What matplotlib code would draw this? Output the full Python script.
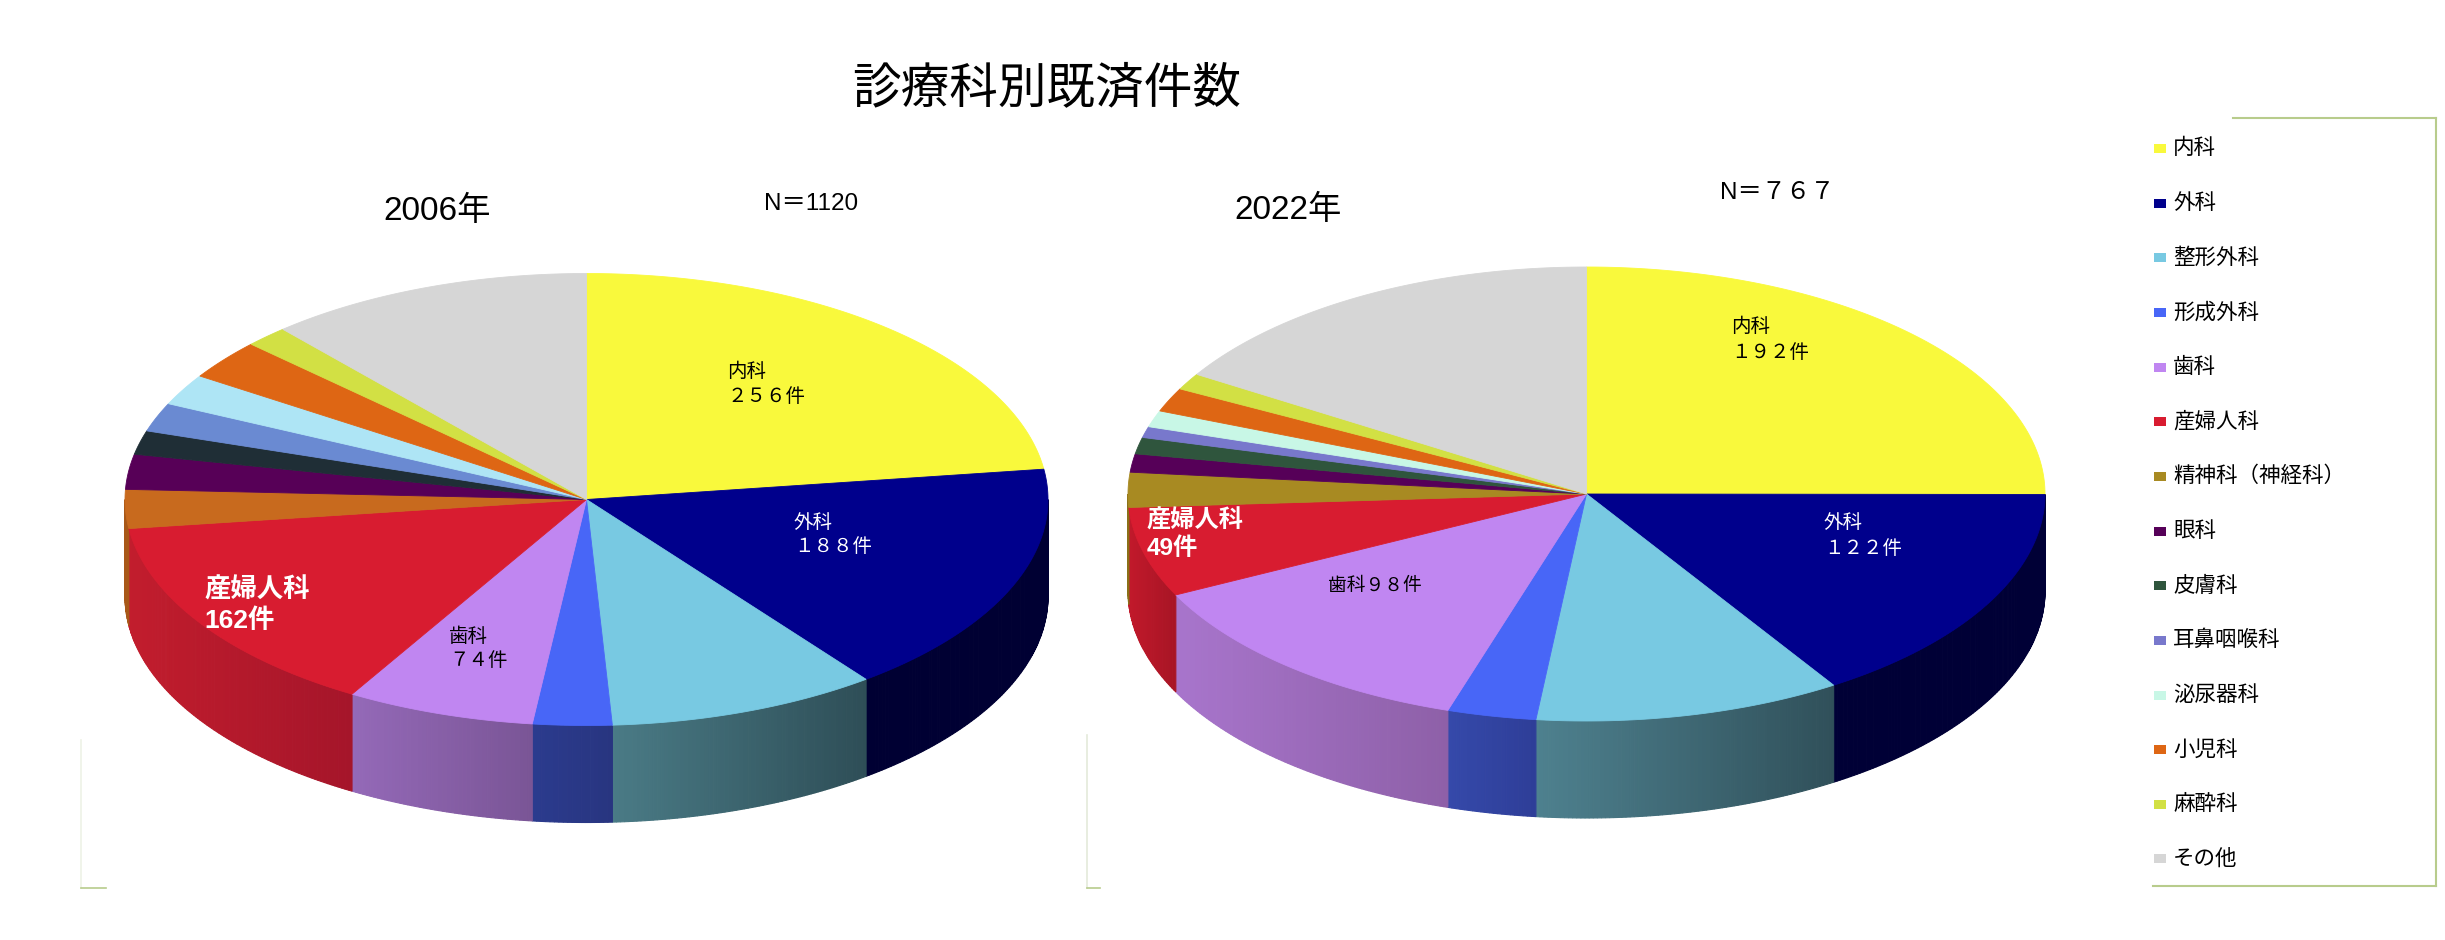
import numpy as np
import matplotlib.pyplot as plt
from matplotlib.patches import Polygon, Rectangle
from matplotlib.colors import to_rgb

plt.rcParams['font.family'] = ['Noto Sans CJK JP', 'DejaVu Sans']

# 診療科
categories = ['内科', '外科', '整形外科', '形成外科', '歯科', '産婦人科',
              '精神科（神経科）', '眼科', '皮膚科', '耳鼻咽喉科', '泌尿器科',
              '小児科', '麻酔科', 'その他']

# 件数（ラベルのあるものはラベル値、他は図から読み取り）
counts_2006 = [256, 188, 106, 31, 74, 162, 31, 28, 19, 23, 25, 32, 17, 128]
counts_2022 = [192, 122, 83, 24, 98, 49, 19, 10, 9, 6, 9, 13, 9, 124]

colors_2022 = ['#F9F93C', '#00008C', '#78C9E2', '#4866F7', '#C086F1', '#D81C30',
               '#A88A22', '#560058', '#2F553D', '#7878CC', '#C8F7E6', '#DE6614',
               '#D2E044', '#D6D6D6']
colors_2006 = ['#F9F93C', '#00008C', '#78C9E2', '#4866F7', '#C086F1', '#D81C30',
               '#C86A1E', '#570057', '#1F2E36', '#6A8AD2', '#AEE5F5', '#DE6614',
               '#D2E044', '#D6D6D6']

# 側面のグラデーション（左→右）
side_2006 = {1: ('#000033', '#000033'), 2: ('#4A7B86', '#2E4E57'),
             3: ('#2B3B8E', '#283580'), 4: ('#9469B8', '#7A5596'),
             5: ('#C21D2D', '#A5152A'), 6: ('#A85818', '#A85818')}
side_2022 = {1: ('#000036', '#000036'), 2: ('#4E818F', '#30505A'),
             3: ('#3549AA', '#2E3E98'), 4: ('#A875CC', '#8E60A8'),
             5: ('#C2192B', '#A81525'), 6: ('#8A7018', '#8A7018')}

W, H = 2445, 940
fig = plt.figure(figsize=(W / 100, H / 100), dpi=100)
ax = fig.add_axes([0, 0, 1, 1])
ax.set_xlim(0, W)
ax.set_ylim(H, 0)
ax.axis('off')


def pie3d(ax, counts, colors, sides, cx, cy, rx, ry, depth):
    total = sum(counts)
    cum = np.concatenate([[0], np.cumsum(counts)])
    t_start = 90 - cum[:-1] / total * 360
    t_end = 90 - cum[1:] / total * 360

    def pt(t):
        r = np.radians(t)
        return cx + rx * np.cos(r), cy - ry * np.sin(r)

    for i, c in enumerate(colors):
        # 上面
        ts = np.linspace(t_start[i], t_end[i], max(3, int(abs(t_start[i] - t_end[i]) * 2)))
        xs, ys = pt(ts)
        verts = np.column_stack([np.r_[cx, xs], np.r_[cy, ys]])
        ax.add_patch(Polygon(verts, closed=True, fc=c, ec=c, lw=0.6, zorder=3))

        # 側面（手前側 -180..0）
        a = max(t_end[i], -180)
        b = min(t_start[i], 0)
        if a >= b:
            continue
        cl, cr = sides.get(i, (tuple(0.6 * v for v in to_rgb(c)),) * 2)
        cl, cr = np.array(to_rgb(cl)), np.array(to_rgb(cr))
        ts = np.linspace(a, b, max(3, int((b - a) * 2)))
        xs, ys = pt(ts)
        xmin, xmax = xs.min(), xs.max()
        for k in range(len(ts) - 1):
            xm = (xs[k] + xs[k + 1]) / 2
            f = 0 if xmax == xmin else (xm - xmin) / (xmax - xmin)
            col = cl + (cr - cl) * f
            v = [(xs[k], ys[k]), (xs[k + 1], ys[k + 1]),
                 (xs[k + 1], ys[k + 1] + depth), (xs[k], ys[k] + depth)]
            ax.add_patch(Polygon(v, closed=True, fc=col, ec=col, lw=0.8, zorder=2))


pie3d(ax, counts_2006, colors_2006, side_2006, 586.5, 499.5, 461.5, 226, 97)
pie3d(ax, counts_2022, colors_2022, side_2022, 1586.5, 494, 458.5, 227, 97)

# タイトル・見出し
ax.text(1047, 88, '診療科別既済件数', fontsize=35, ha='center', va='center', zorder=5)
lat = ['Liberation Sans', 'Noto Sans CJK JP']
ax.text(437, 211, '2006年', fontsize=24, family=lat, ha='center', va='center')
ax.text(1288, 210, '2022年', fontsize=24, family=lat, ha='center', va='center')
ax.text(811, 204, 'N＝1120', fontsize=17.5, family=lat, ha='center', va='center')
ax.text(1777, 193, 'N＝７６７', fontsize=17.5, family=lat, ha='center', va='center')

# ラベル
def lab(x, y, s, **kw):
    ax.text(x, y, s, ha='left', va='center', zorder=6, **kw)

lab(727, 371.5, '内科', fontsize=14)
lab(727, 397, '２５６件', fontsize=14)
lab(794, 522, '外科', fontsize=14, color='white')
lab(794, 546.5, '１８８件', fontsize=14, color='white')
lab(204, 590.5, '産婦人科', fontsize=19, color='white', fontweight='bold')
lab(204, 620.5, '162件', fontsize=19, color='white', fontweight='bold', family=lat)
lab(449, 637, '歯科', fontsize=14)
lab(449, 660.5, '７４件', fontsize=14)

lab(1731, 326, '内科', fontsize=14)
lab(1731, 352, '１９２件', fontsize=14)
lab(1824, 522.5, '外科', fontsize=14, color='white')
lab(1824, 548.5, '１２２件', fontsize=14, color='white')
lab(1147, 521, '産婦人科', fontsize=17.5, color='white', fontweight='bold')
lab(1147, 548.5, '49件', fontsize=17.5, color='white', fontweight='bold', family=lat)
lab(1328, 586, '歯科９８件', fontsize=13.5)

# 凡例
for i, (name, c) in enumerate(zip(categories, colors_2022)):
    y = 148.5 + i * 54.65
    ax.add_patch(Rectangle((2154, y - 4.5), 12, 9, fc=c, ec='none', zorder=5))
    ax.text(2173, y, name, fontsize=15.5, ha='left', va='center', zorder=5)

green = '#B8CC8C'
ax.plot([2233, 2436], [118, 118], color=green, lw=1.5)
ax.plot([2436, 2436], [118, 886], color=green, lw=1.5)
ax.plot([2153, 2436], [886, 886], color=green, lw=1.5)
# 元画像の枠の名残
ax.plot([81, 81], [740, 888], color='#EEF2E6', lw=1.2)
ax.plot([81, 106], [888, 888], color=green, lw=1.2)
ax.plot([1087, 1087], [735, 888], color='#E4EADA', lw=1.2)
ax.plot([1087, 1100], [888, 888], color=green, lw=1.2)

fig.savefig('out.png', dpi=100)
